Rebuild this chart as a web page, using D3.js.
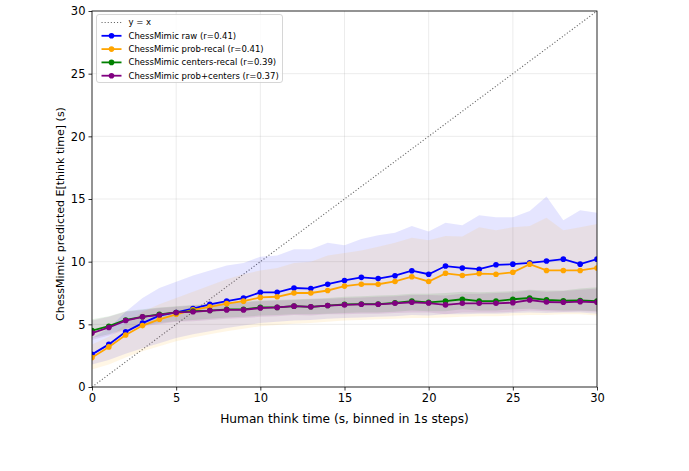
<!DOCTYPE html>
<html>
<head>
<meta charset="utf-8">
<script src="https://cdn.jsdelivr.net/npm/d3@7"></script>
<style>
  body { margin: 0; background: #fff; }
  text { font-family: "DejaVu Sans", sans-serif; }
</style>
</head>
<body>
<div id="chart"></div>
<script>
// binned human think time (s)
var thinkTime = [0,1,2,3,4,5,6,7,8,9,10,11,12,13,14,15,16,17,18,19,20,21,22,23,24,25,26,27,28,29,30];

// mean predicted think time per bin
var rawMean = [2.6,3.4,4.4,5.1,5.7,5.95,6.25,6.6,6.85,7.1,7.55,7.55,7.9,7.85,8.2,8.5,8.75,8.65,8.88,9.28,9.0,9.65,9.5,9.4,9.75,9.8,9.9,10.05,10.2,9.8,10.2];
var probMean = [2.35,3.2,4.15,4.9,5.4,5.8,6.15,6.4,6.65,6.85,7.15,7.2,7.5,7.5,7.7,8.05,8.2,8.2,8.42,8.8,8.42,9.07,8.9,9.05,9.0,9.15,9.8,9.3,9.3,9.3,9.5];
var centersMean = [4.5,4.85,5.35,5.6,5.8,5.95,6.05,6.1,6.2,6.2,6.35,6.35,6.45,6.4,6.5,6.6,6.62,6.62,6.72,6.85,6.75,6.85,7.0,6.85,6.85,7.0,7.1,6.95,6.88,6.9,6.85];
var bothMean = [4.3,4.75,5.3,5.6,5.75,5.95,6.0,6.1,6.15,6.15,6.3,6.35,6.45,6.4,6.5,6.55,6.6,6.6,6.68,6.76,6.7,6.55,6.68,6.68,6.68,6.73,6.94,6.78,6.76,6.81,6.76];

// shaded spread per bin
var rawHi = [3.9,4.7,6.0,7.1,7.9,8.4,8.9,9.3,9.7,9.9,10.4,10.5,11.0,11.0,11.5,11.3,11.8,12.1,12.3,12.85,12.4,13.1,12.9,13.7,13.55,13.55,14.05,15.2,13.3,14.1,13.9];
var rawLo = [1.8,2.15,2.65,3.1,3.5,3.9,4.2,4.45,4.7,4.9,5.1,5.2,5.3,5.35,5.45,5.5,5.55,5.6,5.65,5.75,5.7,5.8,5.8,5.85,5.85,5.9,5.95,5.9,5.95,5.95,5.85];
var probHi = [3.4,4.0,5.0,6.0,6.6,7.1,7.6,8.1,8.6,9.0,9.3,9.5,9.9,10.0,10.5,10.7,10.9,11.2,11.5,11.9,11.7,12.05,12.0,12.75,12.5,12.75,12.85,13.5,12.5,12.75,13.0];
var probLo = [1.4,1.8,2.35,2.85,3.25,3.65,3.95,4.2,4.45,4.65,4.85,4.95,5.05,5.1,5.2,5.3,5.35,5.4,5.45,5.5,5.5,5.55,5.6,5.65,5.65,5.7,5.75,5.75,5.8,5.8,5.7];
var centersHi = [5.4,5.65,6.05,6.2,6.35,6.45,6.55,6.65,6.75,6.8,6.9,6.95,7.0,7.05,7.1,7.2,7.25,7.3,7.35,7.45,7.45,7.5,7.6,7.55,7.6,7.65,7.75,7.7,7.7,7.85,7.95];
var centersLo = [3.9,4.2,4.65,4.9,5.1,5.25,5.35,5.45,5.55,5.6,5.7,5.75,5.8,5.8,5.85,5.9,5.95,5.95,6.0,6.1,6.05,6.05,6.2,6.1,6.1,6.2,6.25,6.15,6.1,6.1,6.05];
var bothHi = [5.3,5.6,6.0,6.15,6.3,6.4,6.5,6.6,6.7,6.75,6.85,6.9,6.95,7.0,7.05,7.1,7.15,7.2,7.25,7.35,7.35,7.3,7.45,7.45,7.5,7.55,7.7,7.6,7.65,7.75,7.85];
var bothLo = [3.75,4.1,4.55,4.85,5.0,5.2,5.25,5.35,5.45,5.5,5.6,5.65,5.75,5.7,5.8,5.8,5.85,5.85,5.9,5.95,5.95,5.8,5.95,5.95,5.95,6.0,6.1,6.05,6.0,6.05,6.0];

var seriesNames = ["ChessMimic raw (r=0.41)", "ChessMimic prob-recal (r=0.41)", "ChessMimic centers-recal (r=0.39)", "ChessMimic prob+centers (r=0.37)"];
var seriesColors = ["blue", "orange", "green", "purple"];
var xTicks = [0,5,10,15,20,25,30];
var yTicks = [0,5,10,15,20,25,30];

var series = [
  {name: seriesNames[0], color: seriesColors[0], mean: rawMean, lo: rawLo, hi: rawHi},
  {name: seriesNames[1], color: seriesColors[1], mean: probMean, lo: probLo, hi: probHi},
  {name: seriesNames[2], color: seriesColors[2], mean: centersMean, lo: centersLo, hi: centersHi},
  {name: seriesNames[3], color: seriesColors[3], mean: bothMean, lo: bothLo, hi: bothHi}
];

var width = 689,
    height = 471,
    margin = {top: 11, right: 92, bottom: 84, left: 92};

var svg = d3.select("#chart")
    .append("svg")
    .attr("width", width)
    .attr("height", height);

var x = d3.scaleLinear().domain([0, 30]).range([margin.left, width - margin.right]);
var y = d3.scaleLinear().domain([0, 30]).range([height - margin.bottom, margin.top]);

svg.append("clipPath").attr("id", "plotclip")
  .append("rect")
    .attr("x", x(0)).attr("y", y(30))
    .attr("width", x(30) - x(0)).attr("height", y(0) - y(30));

// grid
var grid = svg.append("g").attr("stroke", "#b0b0b0").attr("stroke-opacity", 0.3).attr("stroke-width", 0.8);
grid.selectAll(".gx").data(xTicks).enter().append("line")
    .attr("x1", d => x(d)).attr("x2", d => x(d))
    .attr("y1", y(0)).attr("y2", y(30));
grid.selectAll(".gy").data(yTicks).enter().append("line")
    .attr("y1", d => y(d)).attr("y2", d => y(d))
    .attr("x1", x(0)).attr("x2", x(30));

var plot = svg.append("g").attr("clip-path", "url(#plotclip)");

// y = x reference
plot.append("line")
    .attr("x1", x(0)).attr("y1", y(0))
    .attr("x2", x(30)).attr("y2", y(30))
    .attr("stroke", "#666")
    .attr("stroke-width", 1.1)
    .attr("stroke-dasharray", "1.1,2");

var area = d3.area()
    .x((d, i) => x(thinkTime[i]))
    .y0(d => y(d[0]))
    .y1(d => y(d[1]));

var line = d3.line()
    .x((d, i) => x(thinkTime[i]))
    .y(d => y(d));

series.forEach(function(s) {
  var band = s.lo.map((v, i) => [v, s.hi[i]]);
  plot.append("path")
      .attr("d", area(band))
      .attr("fill", s.color)
      .attr("fill-opacity", 0.1);
});

series.forEach(function(s) {
  plot.append("path")
      .attr("d", line(s.mean))
      .attr("fill", "none")
      .attr("stroke", s.color)
      .attr("stroke-width", 1.8);
  plot.selectAll(null)
      .data(s.mean)
      .enter().append("circle")
      .attr("cx", (d, i) => x(thinkTime[i]))
      .attr("cy", d => y(d))
      .attr("r", 2.8)
      .attr("fill", s.color);
});

// axes
var xAxis = svg.append("g")
    .attr("transform", "translate(0," + y(0) + ")")
    .call(d3.axisBottom(x).tickValues(xTicks).tickSize(3.5).tickPadding(3));
var yAxis = svg.append("g")
    .attr("transform", "translate(" + x(0) + ",0)")
    .call(d3.axisLeft(y).tickValues(yTicks).tickSize(3.5).tickPadding(3));
[xAxis, yAxis].forEach(function(a) {
  a.select(".domain").remove();
  a.selectAll("text").attr("font-size", 11.5).attr("fill", "#000").attr("font-family", "DejaVu Sans");
  a.selectAll("line").attr("stroke", "#000").attr("stroke-width", 0.8);
});

// frame
svg.append("rect")
    .attr("x", x(0)).attr("y", y(30))
    .attr("width", x(30) - x(0)).attr("height", y(0) - y(30))
    .attr("fill", "none")
    .attr("stroke", "#000")
    .attr("stroke-width", 0.8);

svg.append("text")
    .attr("x", (x(0) + x(30)) / 2)
    .attr("y", y(0) + 36)
    .attr("text-anchor", "middle")
    .attr("font-size", 12.2)
    .text("Human think time (s, binned in 1s steps)");

svg.append("text")
    .attr("transform", "translate(" + (x(0) - 28) + "," + ((y(0) + y(30)) / 2 + 15) + ") rotate(-90)")
    .attr("text-anchor", "middle")
    .attr("font-size", 11)
    .text("ChessMimic predicted E[think time] (s)");

// legend
var legend = svg.append("g").attr("transform", "translate(" + (x(0) + 4.5) + "," + (y(30) + 3.5) + ")");
legend.append("rect")
    .attr("width", 186)
    .attr("height", 68)
    .attr("rx", 2.5)
    .attr("fill", "#fff")
    .attr("fill-opacity", 0.8)
    .attr("stroke", "#cccccc")
    .attr("stroke-width", 0.8);

var legendItems = [{name: "y = x", color: "#666", ref: true}].concat(series);
var item = legend.selectAll(".item")
    .data(legendItems)
    .enter().append("g")
    .attr("transform", (d, i) => "translate(0," + (8 + i * 13.3) + ")");
item.append("line")
    .attr("x1", 5).attr("x2", 25)
    .attr("stroke", d => d.color)
    .attr("stroke-width", d => d.ref ? 1.1 : 1.8)
    .attr("stroke-dasharray", d => d.ref ? "1.1,2" : null);
item.filter(d => !d.ref).append("circle")
    .attr("cx", 15).attr("r", 2.8)
    .attr("fill", d => d.color);
item.append("text")
    .attr("x", 32)
    .attr("dy", "0.35em")
    .attr("font-size", 8.5)
    .text(d => d.name);
</script>
</body>
</html>
